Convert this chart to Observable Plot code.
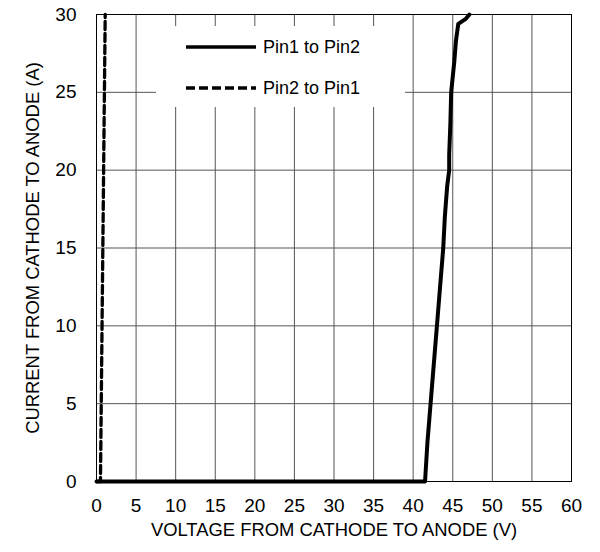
<!DOCTYPE html>
<html>
<head>
<meta charset="utf-8">
<script src="https://cdn.jsdelivr.net/npm/d3@7"></script>
<script src="https://cdn.jsdelivr.net/npm/@observablehq/plot@0.6"></script>
<style>
  html, body { margin: 0; padding: 0; background: #fff; }
  #wrap { position: relative; width: 600px; height: 552px; font-family: Arial, "Liberation Sans", sans-serif; }
  #legend { position: absolute; left: 156px; top: 26px; width: 249px; height: 81px; background: #fff; }
  #legend .row { position: absolute; left: 30px; height: 20px; display: flex; align-items: center; font-size: 18px; color: #000; }
  #legend svg { margin-right: 7px; }
</style>
</head>
<body>
<div id="wrap"></div>
<script>
const seriesNames = ["Pin1 to Pin2", "Pin2 to Pin1"];
// Pin1 to Pin2 (solid)
const pin12V = [0, 10, 20, 30, 41.5, 41.8, 42.2, 42.6, 43.0, 43.4, 43.8, 44.0, 44.3, 44.55, 44.55, 44.7, 44.8, 45.0, 45.2, 45.4, 45.7, 46.6, 47.1];
const pin12I = [0, 0, 0, 0, 0, 2.5, 5.0, 7.5, 10, 12.5, 15, 17, 19, 20, 21, 23, 25, 26, 27, 28.3, 29.4, 29.7, 30];
// Pin2 to Pin1 (dashed)
const pin21V = [0, 0.5, 0.7, 0.9, 1.1];
const pin21I = [0, 0, 10, 20, 30];
const xTicks = [0, 5, 10, 15, 20, 25, 30, 35, 40, 45, 50, 55, 60];
const yTicks = [0, 5, 10, 15, 20, 25, 30];
const xTitle = "VOLTAGE FROM CATHODE TO ANODE (V)";
const yTitle = "CURRENT FROM CATHODE TO ANODE (A)";

const d12 = pin12V.map((v, i) => ({V: v, I: pin12I[i]}));
const d21 = pin21V.map((v, i) => ({V: v, I: pin21I[i]}));

const chart = Plot.plot({
  width: 600,
  height: 552,
  marginLeft: 96,
  marginRight: 29,
  marginTop: 14,
  marginBottom: 71,
  style: {fontFamily: "Arial, 'Liberation Sans', sans-serif", fontSize: "18px", color: "#000", background: "#fff"},
  x: {domain: [0, 60], ticks: xTicks, label: null},
  y: {domain: [0, 30], ticks: yTicks, label: null},
  marks: [
    Plot.gridX(xTicks, {stroke: "#555", strokeOpacity: 1, strokeWidth: 1}),
    Plot.gridY(yTicks, {stroke: "#555", strokeOpacity: 1, strokeWidth: 1}),
    Plot.frame({stroke: "#000", strokeWidth: 1}),
    Plot.line(d21, {x: "V", y: "I", stroke: "#000", strokeWidth: 3.3, strokeDasharray: "8,4"}),
    Plot.line(d12, {x: "V", y: "I", stroke: "#000", strokeWidth: 4, strokeLinejoin: "round"}),
    Plot.axisX(xTicks, {tickSize: 0, tickPadding: 17, fontSize: 19, label: null}),
    Plot.axisY(yTicks, {tickSize: 0, tickPadding: 20, fontSize: 19, label: null}),
    Plot.text([xTitle], {frameAnchor: "bottom", dy: 54, fontSize: 18.4, fill: "#000", textAnchor: "middle"}),
    Plot.text([yTitle], {frameAnchor: "left", dx: -63, rotate: -90, fontSize: 18.4, fill: "#000", textAnchor: "middle"})
  ]
});

const wrap = document.getElementById("wrap");
wrap.appendChild(chart);

const legend = document.createElement("div");
legend.id = "legend";
const dashes = ["none", "9,4"];
seriesNames.forEach((name, i) => {
  const row = document.createElement("div");
  row.className = "row";
  row.style.top = (i === 0 ? 11 : 52) + "px";
  row.innerHTML = `<svg width="70" height="6"><line x1="0" x2="70" y1="3" y2="3" stroke="#000" stroke-width="3.5" ${dashes[i] !== "none" ? `stroke-dasharray="${dashes[i]}"` : ""}/></svg><span>${name}</span>`;
  legend.appendChild(row);
});
wrap.appendChild(legend);
</script>
</body>
</html>
